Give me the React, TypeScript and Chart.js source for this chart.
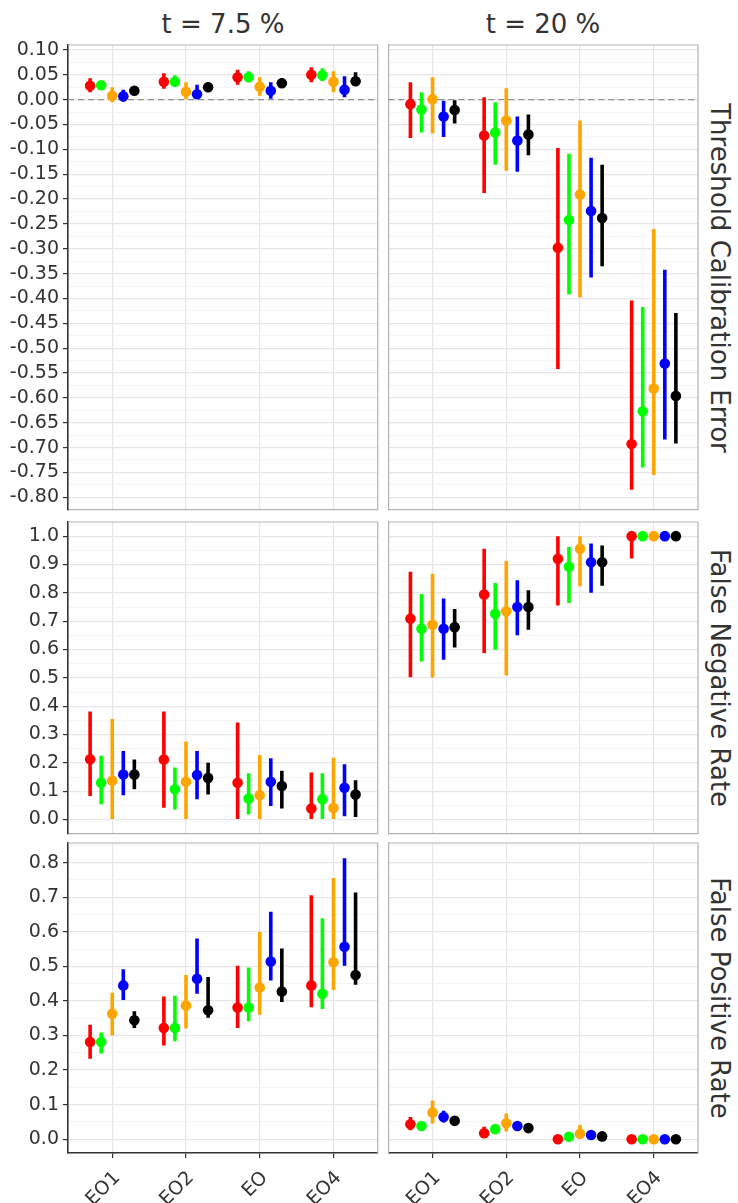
import React, { useEffect, useRef } from "react";
import { Chart, registerables } from "chart.js";

Chart.register(...registerables);

// ---------- data ----------
const CATEGORIES = ["EO1", "EO2", "EO", "EO4"];
const SERIES_COLORS = ["#FF0000", "#00FF00", "#FFA500", "#0000FF", "#000000"];
const DODGE = [-0.3, -0.15, 0, 0.15, 0.3];
const THRESHOLDS = ["t = 7.5 %", "t = 20 %"];
const METRICS = ["Threshold Calibration Error", "False Negative Rate", "False Positive Rate"];

// y tick values (major labelled, minor grid only)
const TCE_MAJOR = [0.1, 0.05, 0, -0.05, -0.1, -0.15, -0.2, -0.25, -0.3, -0.35, -0.4, -0.45, -0.5, -0.55, -0.6, -0.65, -0.7, -0.75, -0.8];
const TCE_MINOR = [0.075, 0.025, -0.025, -0.075, -0.125, -0.175, -0.225, -0.275, -0.325, -0.375, -0.425, -0.475, -0.525, -0.575, -0.625, -0.675, -0.725, -0.775];
const FNR_MAJOR = [1.0, 0.9, 0.8, 0.7, 0.6, 0.5, 0.4, 0.3, 0.2, 0.1, 0.0];
const FNR_MINOR = [0.95, 0.85, 0.75, 0.65, 0.55, 0.45, 0.35, 0.25, 0.15, 0.05];
const FPR_MAJOR = [0.8, 0.7, 0.6, 0.5, 0.4, 0.3, 0.2, 0.1, 0.0];
const FPR_MINOR = [0.85, 0.75, 0.65, 0.55, 0.45, 0.35, 0.25, 0.15, 0.05];

// rows: series (red, green, orange, blue, black); columns: EO1, EO2, EO, EO4
const TCE75_MID = [[0.028, 0.036, 0.045, 0.050], [0.029, 0.036, 0.045, 0.049], [0.008, 0.016, 0.026, 0.036], [0.007, 0.011, 0.018, 0.020], [0.018, 0.025, 0.033, 0.037]];
const TCE75_LO = [[0.015, 0.022, 0.030, 0.035], [0.021, 0.027, 0.035, 0.037], [-0.005, 0.001, 0.008, 0.015], [-0.004, 0.000, 0.002, 0.005], [0.012, 0.018, 0.027, 0.030]];
const TCE75_HI = [[0.043, 0.053, 0.060, 0.065], [0.035, 0.049, 0.057, 0.063], [0.025, 0.035, 0.045, 0.057], [0.020, 0.030, 0.035, 0.047], [0.023, 0.035, 0.043, 0.055]];

const TCE20_MID = [[-0.009, -0.072, -0.298, -0.693], [-0.020, -0.066, -0.242, -0.627], [0.001, -0.042, -0.191, -0.581], [-0.034, -0.082, -0.224, -0.531], [-0.021, -0.070, -0.238, -0.596]];
const TCE20_LO = [[-0.077, -0.188, -0.542, -0.785], [-0.066, -0.131, -0.392, -0.740], [-0.068, -0.143, -0.398, -0.755], [-0.075, -0.145, -0.358, -0.684], [-0.048, -0.112, -0.335, -0.692]];
const TCE20_HI = [[0.035, 0.005, -0.097, -0.404], [0.015, -0.005, -0.109, -0.417], [0.045, 0.023, -0.042, -0.260], [-0.002, -0.034, -0.117, -0.342], [-0.001, -0.030, -0.131, -0.429]];

const FNR75_MID = [[0.213, 0.212, 0.130, 0.039], [0.130, 0.107, 0.074, 0.072], [0.137, 0.133, 0.086, 0.041], [0.159, 0.157, 0.133, 0.112], [0.159, 0.147, 0.118, 0.088]];
const FNR75_LO = [[0.083, 0.042, 0.0, 0.0], [0.054, 0.035, 0.018, 0.0], [0.0, 0.0, 0.0, 0.0], [0.086, 0.072, 0.048, 0.012], [0.107, 0.088, 0.039, 0.009]];
const FNR75_HI = [[0.381, 0.381, 0.342, 0.166], [0.225, 0.184, 0.163, 0.163], [0.355, 0.275, 0.228, 0.218], [0.242, 0.242, 0.216, 0.195], [0.212, 0.200, 0.172, 0.139]];

const FNR20_MID = [[0.709, 0.794, 0.920, 1.0], [0.673, 0.726, 0.892, 1.0], [0.687, 0.735, 0.956, 1.0], [0.673, 0.750, 0.908, 1.0], [0.679, 0.750, 0.908, 1.0]];
const FNR20_LO = [[0.502, 0.587, 0.755, 0.921], [0.558, 0.599, 0.764, 1.0], [0.501, 0.508, 0.823, 1.0], [0.564, 0.650, 0.800, 0.985], [0.607, 0.670, 0.825, 0.987]];
const FNR20_HI = [[0.874, 0.956, 1.0, 1.0], [0.796, 0.835, 0.962, 1.0], [0.867, 0.912, 1.0, 1.0], [0.780, 0.844, 0.974, 1.0], [0.743, 0.809, 0.967, 1.0]];

const FPR75_MID = [[0.281, 0.322, 0.381, 0.445], [0.281, 0.322, 0.381, 0.421], [0.363, 0.387, 0.439, 0.512], [0.445, 0.464, 0.514, 0.557], [0.344, 0.373, 0.427, 0.475]];
const FPR75_LO = [[0.233, 0.271, 0.322, 0.382], [0.248, 0.283, 0.341, 0.377], [0.300, 0.320, 0.360, 0.432], [0.403, 0.421, 0.459, 0.502], [0.322, 0.351, 0.397, 0.447]];
const FPR75_HI = [[0.331, 0.413, 0.502, 0.706], [0.309, 0.415, 0.497, 0.639], [0.424, 0.475, 0.600, 0.756], [0.492, 0.581, 0.658, 0.813], [0.370, 0.469, 0.552, 0.714]];

const FPR20_MID = [[0.043, 0.017, 0.0, 0.0], [0.038, 0.029, 0.007, 0.0], [0.077, 0.046, 0.016, 0.0], [0.064, 0.038, 0.012, 0.0], [0.053, 0.032, 0.008, 0.0]];
const FPR20_LO = [[0.026, 0.005, 0.0, 0.0], [0.034, 0.024, 0.002, 0.0], [0.045, 0.022, 0.003, 0.0], [0.048, 0.030, 0.006, 0.0], [0.050, 0.028, 0.004, 0.0]];
const FPR20_HI = [[0.064, 0.036, 0.002, 0.0], [0.043, 0.034, 0.012, 0.0], [0.112, 0.074, 0.041, 0.0], [0.082, 0.047, 0.017, 0.0], [0.057, 0.036, 0.012, 0.0]];

// ---------- layout ----------
const FONT = "'DejaVu Sans', 'Noto Sans', sans-serif";
const TEXT_COLOR = "#333333";
const COL_X = [
  { plotL: 68, plotR: 378, canvasL: 0, canvasR: 383 },
  { plotL: 388, plotR: 698, canvasL: 383, canvasR: 738 },
];
const ROW_Y = [
  { plotT: 45, plotB: 510, canvasT: 30, canvasB: 515 },
  { plotT: 522, plotB: 834, canvasT: 512, canvasB: 839 },
  { plotT: 843, plotB: 1153, canvasT: 834, canvasB: 1203 },
];
const ROW_RANGE = [
  [-0.825, 0.11],
  [-0.05, 1.05],
  [-0.04, 0.857],
];
const ROW_MAJOR = [TCE_MAJOR, FNR_MAJOR, FPR_MAJOR];
const ROW_MINOR = [TCE_MINOR, FNR_MINOR, FPR_MINOR];
const ROW_DECIMALS = [2, 1, 1];
const PANEL_DATA = [
  [[TCE75_MID, TCE75_LO, TCE75_HI], [TCE20_MID, TCE20_LO, TCE20_HI]],
  [[FNR75_MID, FNR75_LO, FNR75_HI], [FNR20_MID, FNR20_LO, FNR20_HI]],
  [[FPR75_MID, FPR75_LO, FPR75_HI], [FPR20_MID, FPR20_LO, FPR20_HI]],
];

const isIn = (arr: number[], v: number) => arr.some((a) => Math.abs(a - v) < 1e-6);

const framePlugin = {
  id: "frame",
  beforeDatasetsDraw(chart: any) {
    const { ctx, chartArea } = chart;
    const { left, right, top, bottom } = chartArea;
    ctx.save();
    ctx.strokeStyle = "#b3b3b3";
    ctx.lineWidth = 1.2;
    ctx.beginPath();
    ctx.moveTo(left, top);
    ctx.lineTo(right, top);
    ctx.lineTo(right, bottom);
    ctx.stroke();
    ctx.restore();
  },
};

function Panel({ row, col }: { row: number; col: number }) {
  const ref = useRef<HTMLCanvasElement | null>(null);
  const cx = COL_X[col];
  const ry = ROW_Y[row];
  const w = cx.canvasR - cx.canvasL;
  const h = ry.canvasB - ry.canvasT;
  useEffect(() => {
    const [mid, lo, hi] = PANEL_DATA[row][col];
    const major = ROW_MAJOR[row];
    const minor = ROW_MINOR[row];
    const isLeft = col === 0;
    const isBottom = row === 2;
    const datasets: any[] = [];
    if (row === 0) {
      datasets.push({
        type: "line",
        data: [
          { x: 0.4, y: 0 },
          { x: 4.6, y: 0 },
        ],
        borderColor: "#8f8f8f",
        borderWidth: 1.4,
        borderDash: [6, 4],
        pointRadius: 0,
        showLine: true,
        order: 3,
      });
    }
    SERIES_COLORS.forEach((color, s) => {
      datasets.push({
        type: "bar",
        data: CATEGORIES.map((_, i) => ({ x: i + 1 + DODGE[s], y: [lo[s][i], hi[s][i]] })),
        backgroundColor: color,
        borderWidth: 0,
        grouped: false,
        maxBarThickness: 3.6,
        order: 2,
      });
      datasets.push({
        type: "scatter",
        data: CATEGORIES.map((_, i) => ({ x: i + 1 + DODGE[s], y: mid[s][i] })),
        backgroundColor: color,
        borderWidth: 0,
        pointRadius: 5.3,
        order: 1,
      });
    });
    const allY = [...major, ...minor].sort((a, b) => a - b);
    const chart = new Chart(ref.current as HTMLCanvasElement, {
      type: "scatter",
      data: { datasets },
      plugins: [framePlugin],
      options: {
        responsive: false,
        animation: false,
        events: [],
        layout: {
          padding: { top: ry.plotT - ry.canvasT, right: cx.canvasR - cx.plotR, left: 0, bottom: 0 },
        },
        plugins: { legend: { display: false }, tooltip: { enabled: false } },
        scales: {
          x: {
            type: "linear",
            min: 0.4,
            max: 4.6,
            offset: false,
            afterBuildTicks: (s: any) => {
              s.ticks = CATEGORIES.map((_, i) => ({ value: i + 1 }));
            },
            afterFit: (s: any) => {
              s.height = ry.canvasB - ry.plotB;
              s.paddingLeft = 0;
              s.paddingRight = 0;
            },
            ticks: {
              display: isBottom,
              autoSkip: false,
              maxRotation: 45,
              minRotation: 45,
              padding: 9,
              labelOffset: 5,
              color: TEXT_COLOR,
              font: { family: FONT, size: 19 },
              callback: (v: any) => CATEGORIES[Math.round(v) - 1],
            },
            grid: {
              offset: false,
              color: "#e6e6e6",
              lineWidth: 1.2,
              drawTicks: isBottom,
              tickLength: 5,
              tickColor: "#333333",
            },
            border: { display: true, color: isBottom ? "#333333" : "#b3b3b3", width: isBottom ? 1.6 : 1.2 },
          },
          y: {
            type: "linear",
            min: ROW_RANGE[row][0],
            max: ROW_RANGE[row][1],
            beginAtZero: false,
            afterBuildTicks: (s: any) => {
              s.ticks = allY.map((v) => ({ value: v }));
            },
            afterFit: (s: any) => {
              s.width = cx.plotL - cx.canvasL;
              s.paddingTop = 0;
              s.paddingBottom = 0;
            },
            ticks: {
              display: isLeft,
              autoSkip: false,
              padding: 4,
              color: TEXT_COLOR,
              font: { family: FONT, size: 19 },
              callback: (v: any) => {
                if (!isIn(major, v)) return "";
                const n = Math.abs(v) < 1e-9 ? 0 : v;
                return n.toFixed(ROW_DECIMALS[row]);
              },
            },
            grid: {
              offset: false,
              color: (c: any) => (c.tick && isIn(minor, c.tick.value) ? "#f2f2f2" : "#e6e6e6"),
              lineWidth: (c: any) => (c.tick && isIn(minor, c.tick.value) ? 0.8 : 1.2),
              drawTicks: isLeft,
              tickLength: 5,
              tickColor: (c: any) => (c.tick && isIn(minor, c.tick.value) ? "rgba(0,0,0,0)" : "#333333"),
            },
            border: { display: true, color: isLeft ? "#333333" : "#b3b3b3", width: isLeft ? 1.6 : 1.2 },
          },
        },
      } as any,
    });
    return () => chart.destroy();
  }, [row, col]);
  return (
    <canvas
      ref={ref}
      width={w}
      height={h}
      style={{ position: "absolute", left: cx.canvasL, top: ry.canvasT, width: w, height: h, display: "block" }}
    />
  );
}

export default function App() {
  const textBase: React.CSSProperties = {
    position: "absolute",
    fontFamily: FONT,
    fontSize: 26,
    lineHeight: "26px",
    color: TEXT_COLOR,
    whiteSpace: "nowrap",
  };
  return (
    <div style={{ position: "absolute", left: 0, top: 0, width: 738, height: 1203, background: "#ffffff", overflow: "hidden" }}>
      {THRESHOLDS.map((t, c) => (
        <div
          key={"t" + c}
          style={{ ...textBase, left: (COL_X[c].plotL + COL_X[c].plotR) / 2, top: 11, transform: "translateX(-50%)" }}
        >
          {t}
        </div>
      ))}
      {METRICS.map((m, r) => (
        <div
          key={"m" + r}
          style={{
            ...textBase,
            left: 720,
            top: (ROW_Y[r].plotT + ROW_Y[r].plotB) / 2,
            transform: "translate(-50%, -50%) rotate(90deg)",
          }}
        >
          {m}
        </div>
      ))}
      {[0, 1, 2].map((r) => [0, 1].map((c) => <Panel key={r + "-" + c} row={r} col={c} />))}
    </div>
  );
}
